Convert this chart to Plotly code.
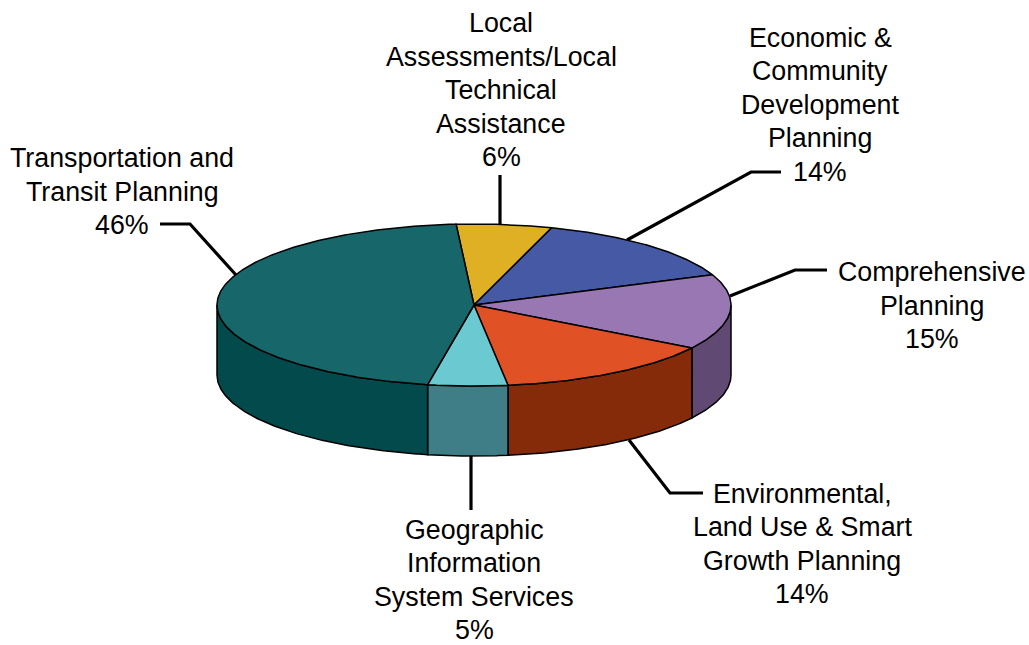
import numpy as np
import plotly.graph_objects as go

# Budget shares, clockwise from the top of the pie
categories = [
    "Local<br>Assessments/Local<br>Technical<br>Assistance",
    "Economic &<br>Community<br>Development<br>Planning",
    "Comprehensive<br>Planning",
    "Environmental,<br>Land Use & Smart<br>Growth Planning",
    "Geographic<br>Information<br>System Services",
    "Transportation and<br>Transit Planning",
]
shares = [6, 14, 15, 14, 5, 46]
top_colors = ["#e0b024", "#4659a5", "#9877b3", "#e05126", "#6bc9d2", "#17666a"]
side_colors = ["#a88518", "#33437c", "#604a74", "#862b09", "#407e87", "#024a4b"]

# Label placement: centre of each text block
label_x = [501, 820, 932, 802, 474, 122]
label_y = [90, 104.5, 305.5, 544, 580, 191.5]
LINE_STEP = 33.5

# Leader lines running from each label to the pie rim
leaders = [
    ([500, 500], [175, 227]),
    ([781, 751, 627], [172, 172, 240]),
    ([827, 795, 730], [270, 270, 296]),
    ([703, 670, 629], [493, 493, 440]),
    ([471, 471], [510, 456]),
    ([160, 190, 236], [224, 224, 275]),
]

# Pie geometry in drawing units
CX, CY, RX, RY, DEPTH = 474, 305, 257, 81, 70
START_DEG = -4


def rim(a0, a1):
    t = np.radians(np.linspace(a0, a1, max(int(abs(a1 - a0)) * 2, 2)))
    return CX + RX * np.sin(t), CY - RY * np.cos(t)


fig = go.Figure()
edges = START_DEG + np.concatenate([[0], np.cumsum(shares)]) * 3.6

# Leader lines sit behind the pie
for lx, ly in leaders:
    fig.add_trace(go.Scatter(x=lx, y=ly, mode="lines", hoverinfo="skip",
                             line=dict(color="black", width=3.2)))

# Front wall: only the part of each slice facing the viewer
for a0, a1, col in zip(edges[:-1], edges[1:], side_colors):
    lo, hi = max(a0, 90), min(a1, 270)
    if lo >= hi:
        continue
    x, y = rim(lo, hi)
    fig.add_trace(go.Scatter(
        x=np.concatenate([x, x[::-1], x[:1]]),
        y=np.concatenate([y, y[::-1] + DEPTH, y[:1]]),
        mode="lines", fill="toself", fillcolor=col, hoverinfo="skip",
        line=dict(color="black", width=1.5)))

# Top face
for a0, a1, col, name, share in zip(edges[:-1], edges[1:], top_colors, categories, shares):
    x, y = rim(a0, a1)
    fig.add_trace(go.Scatter(
        x=np.concatenate([[CX], x, [CX]]),
        y=np.concatenate([[CY], y, [CY]]),
        mode="lines", fill="toself", fillcolor=col,
        line=dict(color="black", width=1.5),
        hoverinfo="text", text=f"{name.replace('<br>', ' ')}: {share}%"))

# Each label line is placed on its own so the spacing stays even
for name, share, lx, ly in zip(categories, shares, label_x, label_y):
    lines = name.split("<br>") + [f"{share}%"]
    for i, line in enumerate(lines):
        fig.add_annotation(x=lx, y=ly + (i - (len(lines) - 1) / 2) * LINE_STEP,
                           text=line, showarrow=False,
                           xanchor="center", yanchor="middle",
                           font=dict(family="Liberation Sans", size=26.8, color="black"))

fig.update_layout(
    width=1029, height=645, margin=dict(l=0, r=0, t=0, b=0),
    paper_bgcolor="white", plot_bgcolor="white", showlegend=False,
    xaxis=dict(range=[0, 1029], visible=False, fixedrange=True),
    yaxis=dict(range=[645, 0], visible=False, fixedrange=True),
)
fig.write_html("out.html", config=dict(displayModeBar=False))
